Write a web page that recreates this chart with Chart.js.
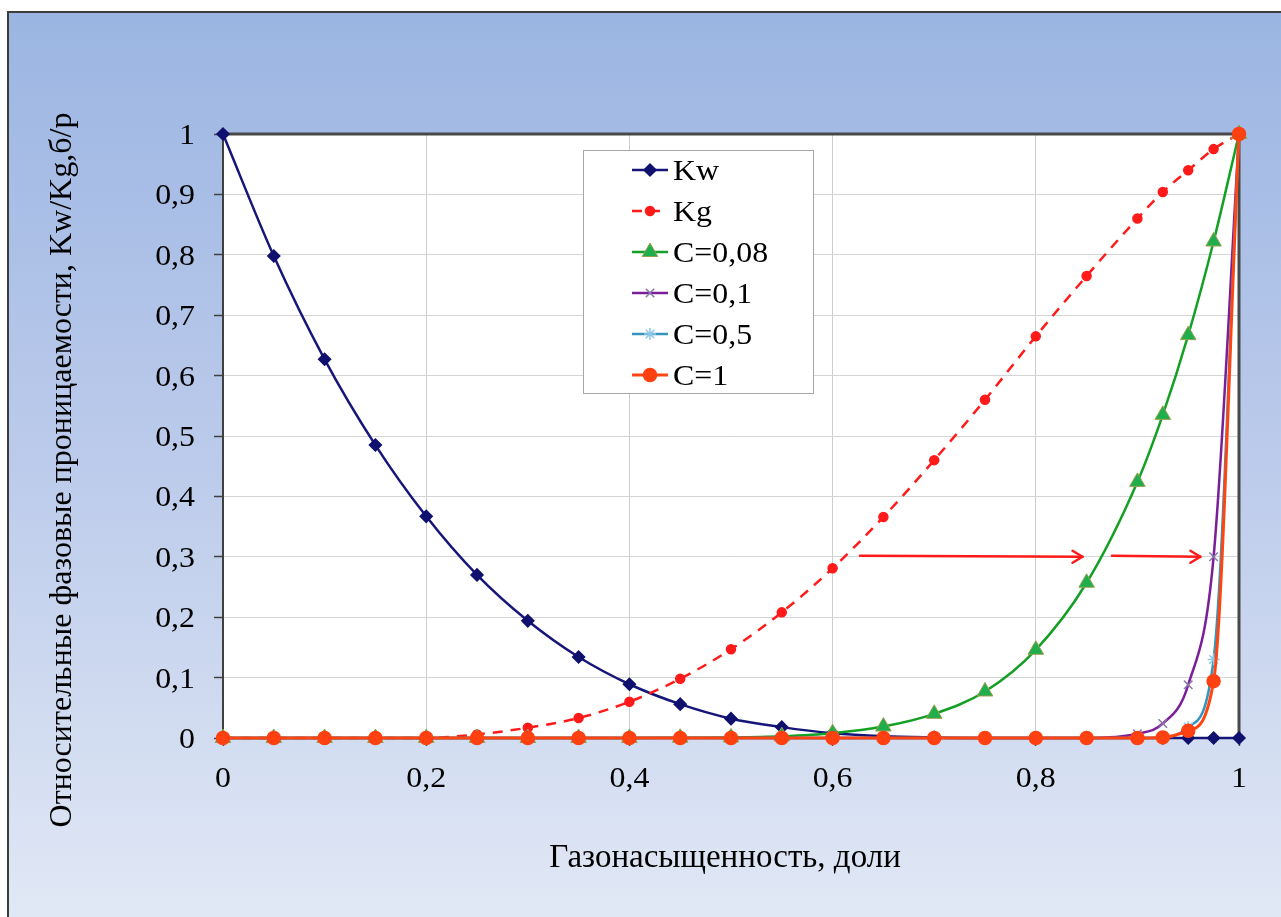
<!DOCTYPE html>
<html>
<head>
<meta charset="utf-8">
<script src="https://cdn.jsdelivr.net/npm/chart.js@4/dist/chart.umd.min.js"></script>
<style>
  html, body { margin: 0; padding: 0; background: #ffffff; }
  canvas { display: block; }
</style>
</head>
<body>
<canvas id="c" width="1281" height="917"></canvas>
<script>
// Газонасыщенность (доли)
const saturation = [0, 0.05, 0.1, 0.15, 0.2, 0.25, 0.3, 0.35, 0.4, 0.45, 0.5, 0.55, 0.6, 0.65, 0.7, 0.75, 0.8, 0.85, 0.9, 0.925, 0.95, 0.975, 1];

// Относительная проницаемость по воде и газу
const kw = [1, 0.798, 0.627, 0.485, 0.367, 0.27, 0.194, 0.134, 0.089, 0.056, 0.032, 0.018, 0.008, 0.003, 0.001, 0, 0, 0, 0, 0, 0, 0, 0];
const kg = [0, 0, 0, 0, 0, 0.006, 0.017, 0.033, 0.06, 0.098, 0.147, 0.208, 0.281, 0.366, 0.46, 0.56, 0.665, 0.765, 0.86, 0.904, 0.94, 0.975, 1];

// Кривые для разных значений C
const c008 = [0, 0, 0, 0, 0, 0, 0, 0, 0, 0.0005, 0.001, 0.003, 0.008, 0.019, 0.04, 0.077, 0.146, 0.257, 0.424, 0.535, 0.667, 0.822, 1];
const c01  = [0, 0, 0, 0, 0, 0, 0, 0, 0, 0, 0, 0, 0, 0, 0, 0, 0, 0, 0.007, 0.024, 0.088, 0.30, 1];
const c05  = [0, 0, 0, 0, 0, 0, 0, 0, 0, 0, 0, 0, 0, 0, 0, 0, 0, 0, 0, 0, 0.018, 0.13, 1];
const c1   = [0, 0, 0, 0, 0, 0, 0, 0, 0, 0, 0, 0, 0, 0, 0, 0, 0, 0, 0, 0.001, 0.012, 0.094, 1];

const seriesNames = ['Kw', 'Kg', 'C=0,08', 'C=0,1', 'C=0,5', 'C=1'];

const xTicks = [0, 0.2, 0.4, 0.6, 0.8, 1];
const yTicks = [0, 0.1, 0.2, 0.3, 0.4, 0.5, 0.6, 0.7, 0.8, 0.9, 1];

// Стрелки смещения кривой (x начала, x конца, уровень y)
const arrowFrom = [0.627, 0.875];
const arrowTo   = [0.846, 0.962];
const arrowLevel = [0.30, 0.30];

const xTitle = 'Газонасыщенность, доли';
const yTitle = 'Относительные фазовые проницаемости, Kw/Kg,б/р';

const SERIF = "'Liberation Serif', 'Times New Roman', serif";
const WIDE = 1.1; // горизонтальное растяжение подписей

function pts(ys) { return ys.map((y, i) => ({ x: saturation[i], y })); }
function fmt(v) {
  const r = Math.round(v * 10) / 10;
  return String(r).replace('.', ',');
}
function wideText(ctx, text, x, y, align) {
  ctx.save();
  ctx.translate(x, y);
  ctx.scale(WIDE, 1);
  ctx.textAlign = align;
  ctx.fillText(text, 0, 0);
  ctx.restore();
}

const background = {
  id: 'background',
  beforeDraw(chart) {
    const { ctx, width, height, chartArea: a } = chart;
    ctx.save();
    ctx.fillStyle = '#ffffff';
    ctx.fillRect(0, 0, width, height);
    const g = ctx.createLinearGradient(0, 12, 0, height);
    g.addColorStop(0, '#9bb5e2');
    g.addColorStop(0.5, '#bccbeb');
    g.addColorStop(1, '#e1e8f5');
    ctx.fillStyle = g;
    ctx.fillRect(8, 12, width - 8, height - 12);
    ctx.strokeStyle = '#3c3c3c';
    ctx.lineWidth = 2;
    ctx.beginPath();
    ctx.moveTo(8, height);
    ctx.lineTo(8, 12);
    ctx.lineTo(width, 12);
    ctx.stroke();
    ctx.fillStyle = '#ffffff';
    ctx.fillRect(a.left, a.top, a.right - a.left, a.bottom - a.top);
    ctx.restore();
  },
  beforeDatasetsDraw(chart) {
    const { ctx, chartArea: a } = chart;
    ctx.save();
    ctx.strokeStyle = '#484848';
    ctx.lineWidth = 3;
    ctx.beginPath();
    ctx.moveTo(a.left, a.top);
    ctx.lineTo(a.right, a.top);
    ctx.lineTo(a.right, a.bottom);
    ctx.stroke();
    ctx.restore();
  }
};

const annotations = {
  id: 'annotations',
  afterDatasetsDraw(chart) {
    const { ctx, scales: { x, y } } = chart;
    ctx.save();
    ctx.strokeStyle = '#ff1a1a';
    ctx.lineWidth = 2.5;
    ctx.lineCap = 'round';
    ctx.lineJoin = 'round';
    for (let i = 0; i < arrowFrom.length; i++) {
      const x0 = x.getPixelForValue(arrowFrom[i]);
      const x1 = x.getPixelForValue(arrowTo[i]);
      const yy = y.getPixelForValue(arrowLevel[i]);
      ctx.beginPath();
      ctx.moveTo(x0, yy - 1);
      ctx.lineTo(x1, yy);
      ctx.stroke();
      ctx.beginPath();
      ctx.moveTo(x1 - 10, yy - 6);
      ctx.lineTo(x1, yy);
      ctx.lineTo(x1 - 10, yy + 6);
      ctx.stroke();
    }
    ctx.restore();
  }
};

const legendBox = {
  id: 'legendBox',
  afterDatasetsDraw(chart) {
    const { ctx } = chart;
    const left = 583, top = 150, w = 230, h = 243;
    ctx.save();
    ctx.fillStyle = '#ffffff';
    ctx.fillRect(left, top, w, h);
    ctx.strokeStyle = '#a6a6a6';
    ctx.lineWidth = 1;
    ctx.strokeRect(left + 0.5, top + 0.5, w, h);
    chart.data.datasets.forEach((ds, i) => {
      const cy = 170 + i * 41;
      ctx.strokeStyle = ds.borderColor;
      ctx.lineWidth = ds.borderWidth;
      ctx.setLineDash(ds.borderDash || []);
      ctx.beginPath();
      ctx.moveTo(632, cy);
      ctx.lineTo(668, cy);
      ctx.stroke();
      ctx.setLineDash([]);
      ctx.fillStyle = ds.pointBackgroundColor;
      ctx.strokeStyle = ds.pointBorderColor;
      ctx.lineWidth = ds.pointBorderWidth;
      Chart.helpers.drawPoint(ctx, {
        pointStyle: ds.pointStyle,
        radius: ds.pointRadius,
        rotation: 0,
        borderWidth: ds.pointBorderWidth
      }, 650, cy);
      ctx.fillStyle = '#000000';
      ctx.font = '29px ' + SERIF;
      ctx.textBaseline = 'alphabetic';
      wideText(ctx, ds.label, 673, cy + 10, 'left');
    });
    ctx.restore();
  }
};

const axisText = {
  id: 'axisText',
  afterDraw(chart) {
    const { ctx, scales: { x, y } } = chart;
    ctx.save();
    ctx.fillStyle = '#000000';
    ctx.font = '29px ' + SERIF;
    ctx.textBaseline = 'alphabetic';
    yTicks.forEach(v => wideText(ctx, fmt(v), 195, y.getPixelForValue(v) + 10, 'right'));
    xTicks.forEach(v => wideText(ctx, fmt(v), x.getPixelForValue(v), 787, 'center'));

    ctx.textAlign = 'center';
    ctx.textBaseline = 'middle';
    ctx.font = '33px ' + SERIF;
    ctx.fillText(xTitle, 725, 858);
    ctx.font = '32px ' + SERIF;
    ctx.translate(63, 470);
    ctx.rotate(-Math.PI / 2);
    ctx.fillText(yTitle, 0, 0);
    ctx.restore();
  }
};

const styles = [
  { color: '#16167a', pointStyle: 'rectRot', radius: 6, fill: '#10106e', stroke: '#10106e', width: 2.5, order: 6 },
  { color: '#ff1a1a', pointStyle: 'circle', radius: 4.5, fill: '#ff1a1a', stroke: '#ff1a1a', width: 2.5, dash: [10, 8], order: 5 },
  { color: '#14a024', pointStyle: 'triangle', radius: 9, fill: '#1fae4c', stroke: '#9a9f4e', width: 2.5, order: 4 },
  { color: '#7a1f98', pointStyle: 'crossRot', radius: 6, fill: '#8a78a8', stroke: '#8a78a8', width: 2.5, order: 3 },
  { color: '#3494bd', pointStyle: 'star', radius: 6, fill: '#8cc8e8', stroke: '#8cc8e8', width: 2.5, order: 2 },
  { color: '#ff4612', pointStyle: 'circle', radius: 6.5, fill: '#ff4010', stroke: '#ff4010', width: 3, order: 1 }
];
const values = [kw, kg, c008, c01, c05, c1];

const datasets = values.map((v, i) => {
  const s = styles[i];
  return {
    label: seriesNames[i],
    data: pts(v),
    borderColor: s.color,
    borderWidth: s.width,
    borderDash: s.dash || [],
    pointStyle: s.pointStyle,
    pointRadius: s.radius,
    pointHoverRadius: s.radius,
    pointBackgroundColor: s.fill,
    pointBorderColor: s.stroke,
    pointBorderWidth: s.pointStyle === 'triangle' ? 1 : 1.5,
    cubicInterpolationMode: 'monotone',
    fill: false,
    clip: false,
    order: s.order
  };
});

new Chart(document.getElementById('c'), {
  type: 'line',
  data: { datasets },
  options: {
    responsive: false,
    devicePixelRatio: 1,
    animation: false,
    events: [],
    layout: { padding: { left: 8, top: 134, right: 42, bottom: 0 } },
    plugins: {
      legend: { display: false },
      tooltip: { enabled: false },
      title: { display: false }
    },
    scales: {
      x: {
        type: 'linear',
        min: 0,
        max: 1,
        afterFit(scale) { scale.height = 179; },
        afterBuildTicks(scale) { scale.ticks = xTicks.map(v => ({ value: v })); },
        ticks: { display: false, autoSkip: false },
        grid: { color: '#cdcdcd', lineWidth: 1, tickColor: '#404040', tickLength: 8, tickWidth: 1.5 },
        border: { display: true, color: '#404040', width: 2 }
      },
      y: {
        type: 'linear',
        min: 0,
        max: 1,
        afterFit(scale) { scale.width = 215; },
        afterBuildTicks(scale) { scale.ticks = yTicks.map(v => ({ value: v })); },
        ticks: { display: false, autoSkip: false },
        grid: { color: '#d4d4d4', lineWidth: 1, tickColor: '#404040', tickLength: 9, tickWidth: 1.5 },
        border: { display: true, color: '#404040', width: 2 }
      }
    }
  },
  plugins: [background, annotations, legendBox, axisText]
});
</script>
</body>
</html>
